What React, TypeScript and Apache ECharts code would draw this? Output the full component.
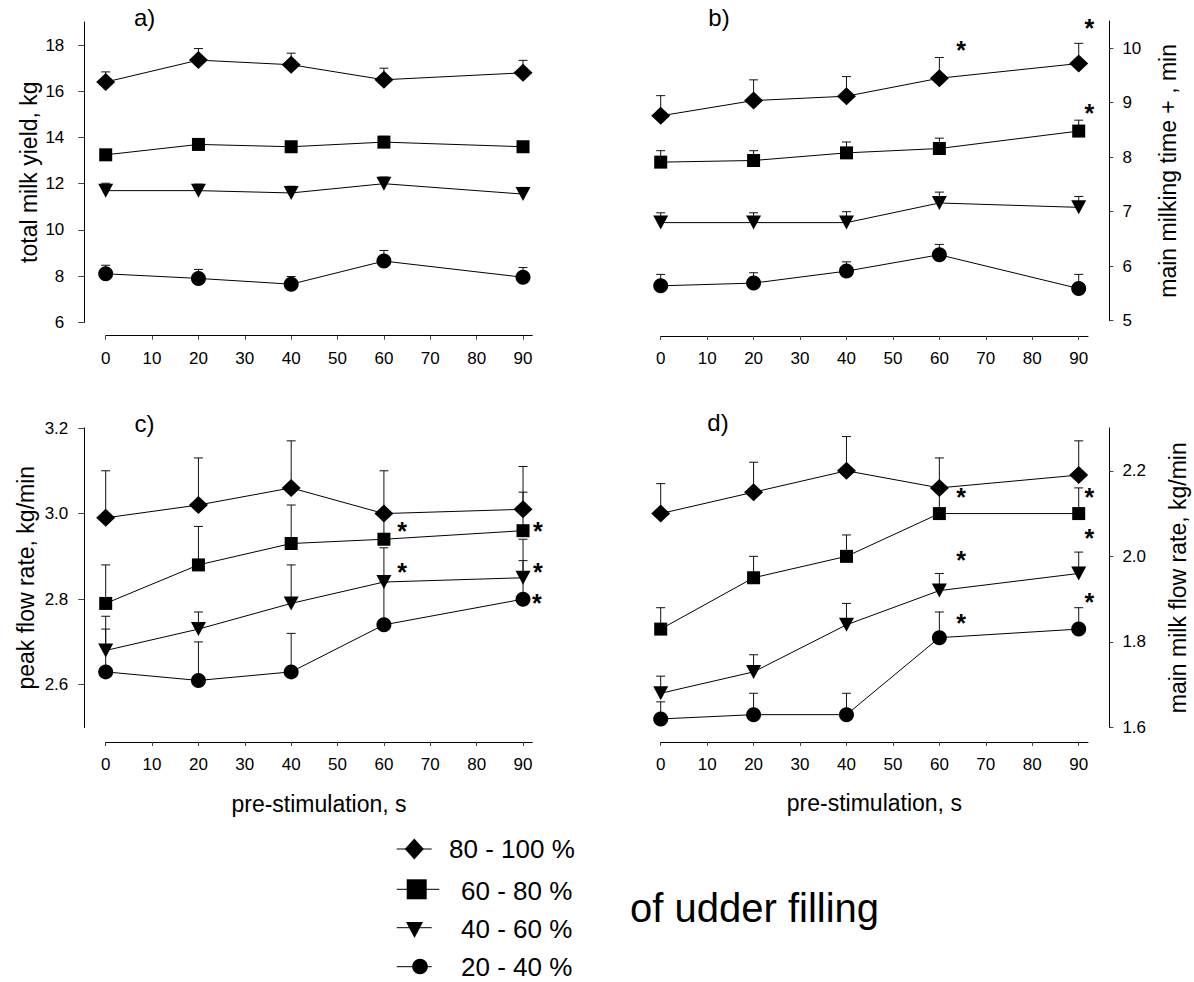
import React, { useEffect, useRef } from "react";
import * as echarts from "echarts";

// Pre-stimulation times (s) at which each group was measured
const stimulation = [0, 20, 40, 60, 90];
const xTickValues = [0, 10, 20, 30, 40, 50, 60, 70, 80, 90];

// Udder-filling groups, top to bottom
const groups = ["80 - 100 %", "60 - 80 %", "40 - 60 %", "20 - 40 %"];

// a) total milk yield, kg  (rows follow `groups`)
const yieldMean = [
  [16.4, 17.35, 17.15, 16.5, 16.8],
  [13.25, 13.7, 13.6, 13.8, 13.6],
  [11.7, 11.7, 11.6, 12.0, 11.55],
  [8.1, 7.9, 7.65, 8.65, 7.95],
];
const yieldSe = [
  [0.44, 0.5, 0.5, 0.5, 0.54],
  [0.2, 0.25, 0.2, 0.25, 0.2],
  [0.32, 0.28, 0.29, 0.29, 0.29],
  [0.37, 0.39, 0.33, 0.46, 0.42],
];

// b) main milking time, min
const timeMean = [
  [8.76, 9.04, 9.12, 9.45, 9.72],
  [7.91, 7.94, 8.08, 8.16, 8.48],
  [6.8, 6.8, 6.8, 7.16, 7.08],
  [5.64, 5.69, 5.91, 6.21, 5.59],
];
const timeSe = [
  [0.37, 0.38, 0.36, 0.38, 0.37],
  [0.21, 0.18, 0.2, 0.19, 0.2],
  [0.18, 0.18, 0.2, 0.2, 0.2],
  [0.21, 0.19, 0.17, 0.19, 0.26],
];

// c) peak flow rate, kg/min
const peakMean = [
  [2.99, 3.02, 3.06, 3.0, 3.01],
  [2.79, 2.88, 2.93, 2.94, 2.96],
  [2.68, 2.73, 2.79, 2.84, 2.85],
  [2.63, 2.61, 2.63, 2.74, 2.8],
];
const peakSe = [
  [0.11, 0.11, 0.11, 0.1, 0.1],
  [0.09, 0.09, 0.09, 0.07, 0.09],
  [0.08, 0.04, 0.09, 0.08, 0.09],
  [0.1, 0.09, 0.09, 0.1, 0.09],
];

// d) main milk flow rate, kg/min
const flowMean = [
  [2.1, 2.15, 2.2, 2.16, 2.19],
  [1.83, 1.95, 2.0, 2.1, 2.1],
  [1.68, 1.73, 1.84, 1.92, 1.96],
  [1.62, 1.63, 1.63, 1.81, 1.83],
];
const flowSe = [
  [0.07, 0.07, 0.08, 0.07, 0.08],
  [0.05, 0.05, 0.05, 0.06, 0.06],
  [0.04, 0.04, 0.05, 0.04, 0.05],
  [0.04, 0.05, 0.05, 0.06, 0.05],
];

// Significance marks (*) in data units [s, value]
const sigTime = [[64.7, 10.06], [92.3, 10.46], [92.3, 8.9]];
const sigPeak = [[63.9, 2.972], [93.2, 2.972], [63.9, 2.875], [93.2, 2.875], [93.0, 2.803]];
const sigFlow = [[64.7, 2.151], [92.3, 2.151], [92.3, 2.054], [64.7, 2.003], [92.3, 1.905], [64.7, 1.855]];

const yTicksYield = [6, 8, 10, 12, 14, 16, 18];
const yTicksTime = [5, 6, 7, 8, 9, 10];
const yTicksPeak = [2.6, 2.8, 3.0, 3.2];
const yTicksFlow = [1.6, 1.8, 2.0, 2.2];

const FONT = "'Liberation Sans', Arial, Helvetica, sans-serif";
const INK = "#000";

const symbols = ["diamond", "rect", "triangle", "circle"];
const symbolSizes: any[] = [[19, 18], 13, [15, 14], 15];
const symbolRotates = [0, 0, 180, 0];

export default function App() {
  const ref = useRef<HTMLDivElement>(null);

  useEffect(() => {
    if (!ref.current) return;
    const chart = echarts.init(ref.current, undefined, { renderer: "svg" });

    const grids = [
      { left: 105.7, top: 22, width: 426.6, height: 300.3 },
      { left: 660.7, top: 21, width: 427.3, height: 299.7 },
      { left: 105.7, top: 428, width: 426.6, height: 299.5 },
      { left: 660.7, top: 428, width: 427.3, height: 299.5 },
    ].map((g) => ({ ...g, outerBoundsMode: "none", containLabel: false }));

    const xOffsets = [13.4, 15.3, 14.5, 14.4];
    const xAxes = [0, 1, 2, 3].map((i) => ({
      type: "value",
      gridIndex: i,
      min: 0,
      max: 92,
      offset: xOffsets[i],
      name: i >= 2 ? "pre-stimulation, s" : "",
      nameLocation: "middle",
      nameGap: 50,
      nameTextStyle: { fontFamily: FONT, fontSize: 23, color: INK },
      axisLine: { show: true, onZero: false, lineStyle: { color: INK, width: 1 } },
      axisTick: {
        show: true,
        length: 4,
        inside: false,
        customValues: xTickValues,
        lineStyle: { color: "#444", width: 1 },
      },
      axisLabel: {
        show: true,
        customValues: xTickValues,
        margin: 14,
        fontFamily: FONT,
        fontSize: 17,
        color: INK,
      },
      splitLine: { show: false },
    }));

    const yDefs = [
      { min: 6, max: 19, ticks: yTicksYield, pos: "left", name: "total milk yield, kg", gap: 44, fmt: (v: number) => String(v), margin: 20, tick: 6 },
      { min: 5, max: 10.5, ticks: yTicksTime, pos: "right", name: "main milking time + , min", gap: 47, fmt: (v: number) => String(v), margin: 13, tick: 4 },
      { min: 2.5, max: 3.2, ticks: yTicksPeak, pos: "left", name: "peak flow rate, kg/min", gap: 47, fmt: (v: number) => v.toFixed(1), margin: 16, tick: 6 },
      { min: 1.6, max: 2.3, ticks: yTicksFlow, pos: "right", name: "main milk flow rate, kg/min", gap: 57, fmt: (v: number) => v.toFixed(1), margin: 13, tick: 4 },
    ];
    const yAxes = yDefs.map((d, i) => ({
      type: "value",
      gridIndex: i,
      min: d.min,
      max: d.max,
      position: d.pos,
      offset: 21.4,
      name: d.name,
      nameLocation: "middle",
      nameRotate: 90,
      nameGap: d.gap,
      nameMoveOverlap: false,
      nameTextStyle: { fontFamily: FONT, fontSize: 23, color: INK },
      axisLine: { show: true, onZero: false, lineStyle: { color: INK, width: 1 } },
      axisTick: {
        show: true,
        length: d.tick,
        inside: false,
        customValues: d.ticks,
        lineStyle: { color: "#444", width: 1 },
      },
      axisLabel: {
        show: true,
        customValues: d.ticks,
        formatter: d.fmt,
        margin: d.margin,
        fontFamily: FONT,
        fontSize: 17,
        color: INK,
      },
      splitLine: { show: false },
    }));

    const panels = [
      { mean: yieldMean, se: yieldSe, sig: [] as number[][] },
      { mean: timeMean, se: timeSe, sig: sigTime },
      { mean: peakMean, se: peakSe, sig: sigPeak },
      { mean: flowMean, se: flowSe, sig: sigFlow },
    ];

    const series: any[] = [];
    panels.forEach((p, pi) => {
      groups.forEach((g, gi) => {
        // upper standard-error whiskers
        series.push({
          type: "custom",
          name: g + " SE",
          xAxisIndex: pi,
          yAxisIndex: pi,
          z: 1,
          silent: true,
          encode: { x: 0, y: 1 },
          data: stimulation.map((s, k) => [s, p.mean[gi][k], p.se[gi][k]]),
          renderItem: (params: any, api: any) => {
            const x = api.value(0);
            const m = api.value(1);
            const e = api.value(2);
            const p0 = api.coord([x, m]);
            const p1 = api.coord([x, m + e]);
            return {
              type: "group",
              children: [
                { type: "line", shape: { x1: p0[0], y1: p0[1], x2: p1[0], y2: p1[1] }, style: { stroke: "#111", lineWidth: 1 } },
                { type: "line", shape: { x1: p1[0] - 4.5, y1: p1[1], x2: p1[0] + 4.5, y2: p1[1] }, style: { stroke: "#111", lineWidth: 1 } },
              ],
            };
          },
        });
        series.push({
          type: "line",
          name: g,
          xAxisIndex: pi,
          yAxisIndex: pi,
          z: 3,
          data: stimulation.map((s, k) => [s, p.mean[gi][k]]),
          symbol: symbols[gi],
          symbolSize: symbolSizes[gi],
          symbolRotate: symbolRotates[gi],
          showAllSymbol: true,
          lineStyle: { color: INK, width: 1 },
          itemStyle: { color: INK, borderWidth: 0 },
          emphasis: { disabled: true },
        });
      });
      if (p.sig.length) {
        series.push({
          type: "custom",
          name: "significance",
          xAxisIndex: pi,
          yAxisIndex: pi,
          z: 4,
          silent: true,
          clip: false,
          encode: { x: 0, y: 1 },
          data: p.sig,
          renderItem: (params: any, api: any) => {
            const c = api.coord([api.value(0), api.value(1)]);
            return {
              type: "text",
              x: c[0],
              y: c[1] + 5,
              style: {
                text: "*",
                fontFamily: FONT,
                fontSize: 25,
                fontWeight: "bold",
                fill: INK,
                align: "center",
                verticalAlign: "middle",
              },
            };
          },
        });
      }
    });

    const panelLetters = [
      { t: "a)", x: 144.6, y: 17 },
      { t: "b)", x: 719, y: 17 },
      { t: "c)", x: 144.6, y: 423 },
      { t: "d)", x: 718, y: 422 },
    ];

    const legendRows = [
      { line: [396.7, 431.7, 849], text: [449, 849] },
      { line: [396.7, 439.3, 889.3], text: [461, 891] },
      { line: [396.7, 431.7, 927.7], text: [461, 929] },
      { line: [396.7, 431.7, 966.7], text: [461, 966.5] },
    ];
    const legendMarks: any[] = [
      { type: "polygon", shape: { points: [[414.3, 838.5], [423.8, 849], [414.3, 859.5], [404.8, 849]] }, style: { fill: INK } },
      { type: "rect", shape: { x: 406.7, y: 879.3, width: 20, height: 20 }, style: { fill: INK } },
      { type: "polygon", shape: { points: [[406, 922], [423, 922], [414.5, 938]] }, style: { fill: INK } },
      { type: "circle", shape: { cx: 420, cy: 966.5, r: 7.8 }, style: { fill: INK } },
    ];

    const graphic: any[] = [];
    panelLetters.forEach((l) =>
      graphic.push({
        type: "text",
        x: l.x,
        y: l.y,
        style: { text: l.t, fontFamily: FONT, fontSize: 24, fill: INK, align: "center", verticalAlign: "middle" },
      })
    );
    legendRows.forEach((r, i) => {
      graphic.push({
        type: "line",
        shape: { x1: r.line[0], y1: r.line[2], x2: r.line[1], y2: r.line[2] },
        style: { stroke: INK, lineWidth: 1 },
      });
      graphic.push(legendMarks[i]);
      graphic.push({
        type: "text",
        x: r.text[0],
        y: r.text[1],
        style: { text: groups[i], fontFamily: FONT, fontSize: 26, lineHeight: 26, fill: INK, align: "left", verticalAlign: "middle" },
      });
    });
    graphic.push({
      type: "text",
      x: 630,
      y: 907.5,
      style: { text: "of udder filling", fontFamily: FONT, fontSize: 40, fill: INK, align: "left", verticalAlign: "middle" },
    });

    chart.setOption({
      animation: false,
      backgroundColor: "#fff",
      textStyle: { fontFamily: FONT },
      grid: grids,
      xAxis: xAxes,
      yAxis: yAxes,
      series,
      graphic,
    });

    return () => chart.dispose();
  }, []);

  return (
    <div
      ref={ref}
      style={{ position: "fixed", left: 0, top: 0, width: 1194, height: 982, background: "#fff" }}
    />
  );
}
